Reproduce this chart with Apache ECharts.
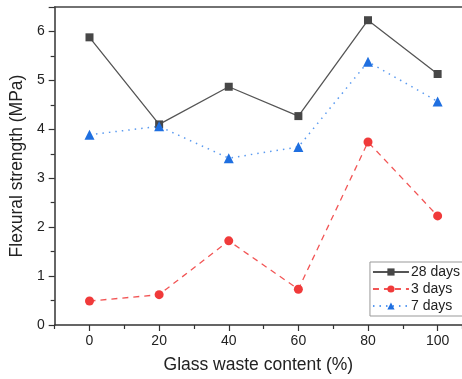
<!DOCTYPE html>
<html><head><meta charset="utf-8">
<script src="https://cdn.jsdelivr.net/npm/echarts@6/dist/echarts.min.js"></script>
<style>html,body{margin:0;padding:0;background:#fff}#c{width:462px;height:379px}</style>
</head><body><div id="c"></div>
<script>
var categories = [0, 20, 40, 60, 80, 100];
var days28 = [5.88, 4.10, 4.87, 4.27, 6.23, 5.13];
var days3 = [0.49, 0.62, 1.72, 0.73, 3.74, 2.23];
var days7 = [3.89, 4.06, 3.41, 3.64, 5.38, 4.57];
var seriesNames = ['28 days', '3 days', '7 days'];
function pairs(v){ return categories.map(function(c,i){ return [c, v[i]]; }); }
var font = 'Liberation Sans, Arial, sans-serif';
var axisColor = '#333';
var xMin = -10, xMax = 107;
var chart = echarts.init(document.getElementById('c'), null, {renderer: 'canvas'});
chart.setOption({
  animation: false,
  backgroundColor: '#fff',
  grid: {left: 53, top: 7, right: 0, bottom: 52, show: false},
  xAxis: [{
    type: 'value', min: xMin, max: xMax, interval: 10,
    axisLine: {show: true, onZero: false, lineStyle: {color: axisColor, width: 1.5}},
    axisTick: {show: true, length: 6, customValues: categories, lineStyle: {color: axisColor, width: 1.2}},
    splitLine: {show: false},
    axisLabel: {color: '#222', fontSize: 14, fontFamily: font, margin: 9, customValues: categories},
    name: 'Glass waste content (%)', nameLocation: 'middle', nameGap: 31,
    nameTextStyle: {color: '#222', fontSize: 17.5, fontFamily: font}
  }, {
    type: 'value', min: xMin, max: xMax, interval: 20, position: 'bottom',
    axisLine: {show: false, onZero: false},
    axisTick: {show: true, length: 4, lineStyle: {color: axisColor, width: 1.2}},
    axisLabel: {show: false}, splitLine: {show: false}
  }, {
    type: 'value', min: xMin, max: xMax, position: 'top',
    axisLine: {show: true, onZero: false, lineStyle: {color: '#444', width: 1.5}},
    axisTick: {show: false}, axisLabel: {show: false}, splitLine: {show: false}
  }],
  yAxis: {
    type: 'value', min: 0, max: 6.5, interval: 1,
    axisLine: {show: true, onZero: false, lineStyle: {color: axisColor, width: 1.5}},
    axisTick: {show: true, length: 6, lineStyle: {color: axisColor, width: 1.2}},
    minorTick: {show: true, splitNumber: 2, length: 4, lineStyle: {color: axisColor, width: 1.2}},
    splitLine: {show: false},
    axisLabel: {color: '#222', fontSize: 14, fontFamily: font, margin: 10,
      formatter: function(v){ return Number.isInteger(v) ? String(v) : ''; }},
    name: 'Flexural strength (MPa)', nameLocation: 'middle', nameGap: 24,
    nameTextStyle: {color: '#222', fontSize: 17.5, fontFamily: font}
  },
  legend: {
    orient: 'vertical', right: -2, top: 262,
    itemWidth: 36, itemHeight: 9, itemGap: 3,
    padding: [3, 4, 3, 2],
    borderColor: '#999', borderWidth: 1, backgroundColor: '#fff',
    textStyle: {color: '#222', fontSize: 14, fontFamily: font, padding: [0,0,0,-3]},
    data: seriesNames
  },
  series: [
    {name: seriesNames[0], type: 'line', data: pairs(days28), symbol: 'rect', symbolSize: 8,
     itemStyle: {color: '#474747'}, lineStyle: {color: '#555', width: 1.3, type: 'solid'}},
    {name: seriesNames[1], type: 'line', data: pairs(days3), symbol: 'circle', symbolSize: 9,
     itemStyle: {color: '#f03a3a'}, lineStyle: {color: '#f25555', width: 1.3, type: [6, 5]}},
    {name: seriesNames[2], type: 'line', data: pairs(days7), symbol: 'triangle', symbolSize: 10,
     itemStyle: {color: '#1f6fe0'}, lineStyle: {color: '#5a9af0', width: 1.5, type: [1.5, 5]}}
  ]
});
</script></body></html>
